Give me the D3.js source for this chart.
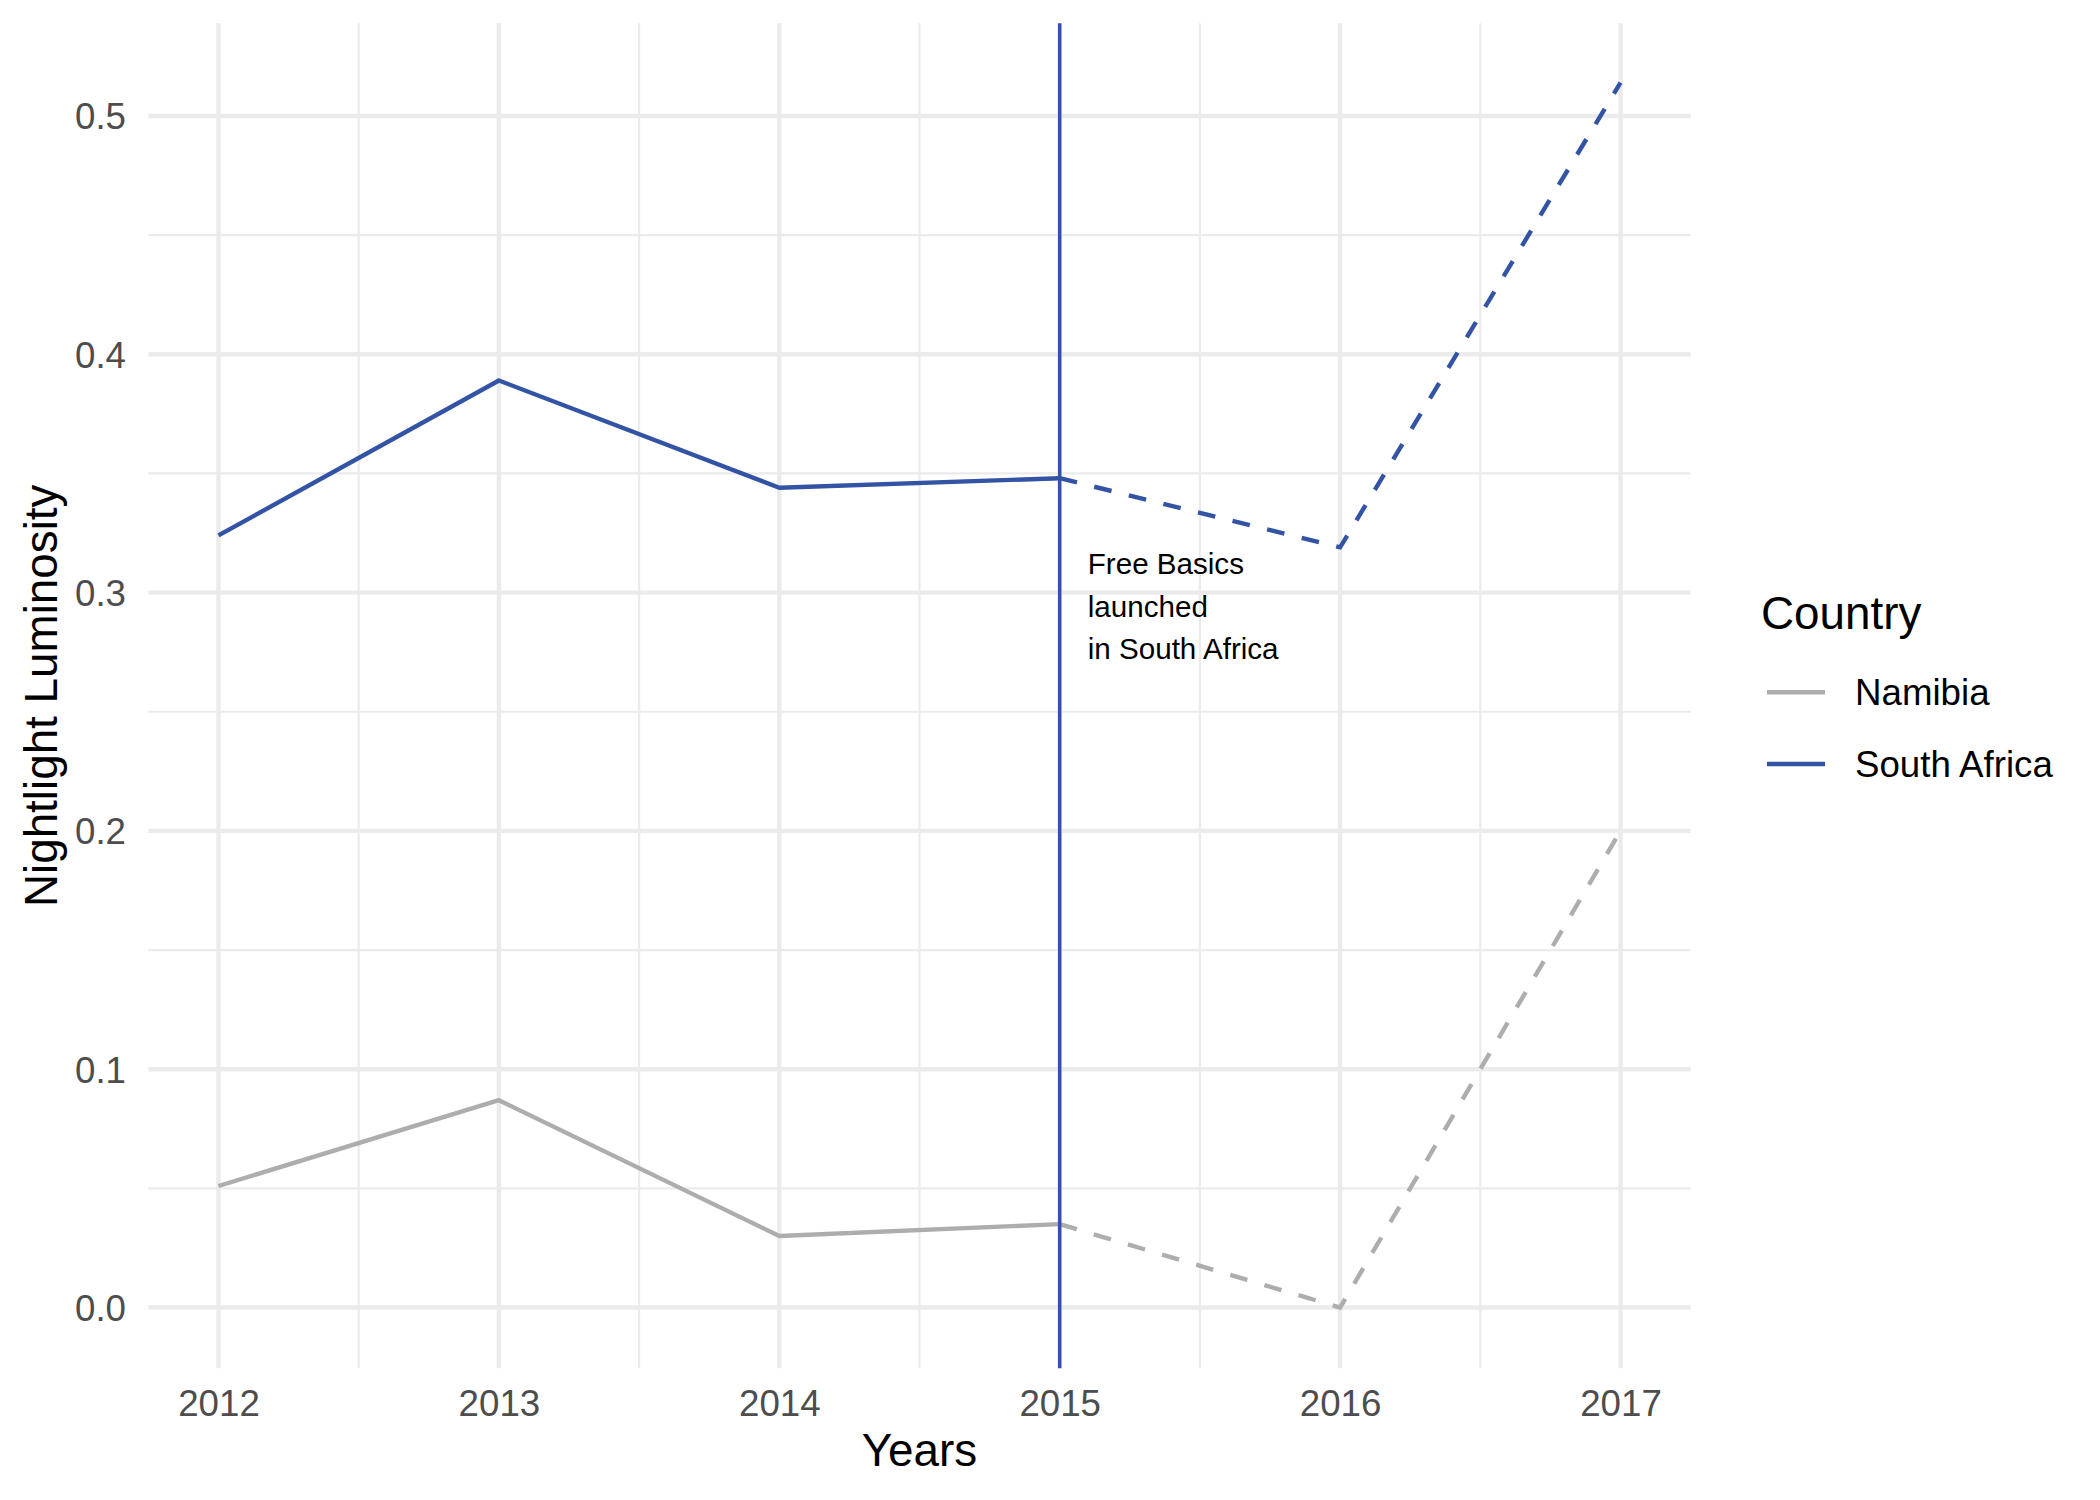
<!DOCTYPE html>
<html>
<head>
<meta charset="utf-8">
<script src="https://cdn.jsdelivr.net/npm/d3@7"></script>
<style>
  body { margin: 0; background: #fff; }
  text { font-family: "Liberation Sans", Arial, sans-serif; }
</style>
</head>
<body>
<svg id="chart" width="2100" height="1500"></svg>
<script>
// data
const years = [2012, 2013, 2014, 2015, 2016, 2017];
const namibia = [0.051, 0.087, 0.030, 0.035, 0.000, 0.200];
const southAfrica = [0.324, 0.389, 0.344, 0.348, 0.319, 0.514];
const countries = ["Namibia", "South Africa"];
const yTicks = [0, 0.1, 0.2, 0.3, 0.4, 0.5];
const launchYear = 2015;
const noteLines = ["Free Basics", "launched", "in South Africa"];

const colors = { "Namibia": "#adadad", "South Africa": "#3353a5" };

var svg = d3.select("#chart"),
    panel = { left: 148.4, right: 1690.6, top: 23.3, bottom: 1368.3 };

var x = d3.scaleLinear().domain([2011.75, 2017.25]).range([panel.left, panel.right]);
var y = d3.scaleLinear().domain([-0.0255, 0.5389]).range([panel.bottom, panel.top]);

var grid = svg.append("g");

// minor grid
let minorY = d3.range(0.05, 0.5, 0.1);
let minorX = d3.range(2012.5, 2017, 1);
grid.selectAll(".minor-y").data(minorY).enter().append("line")
    .attr("x1", panel.left).attr("x2", panel.right)
    .attr("y1", d => y(d)).attr("y2", d => y(d))
    .attr("stroke", "#ebebeb").attr("stroke-width", 2.2);
grid.selectAll(".minor-x").data(minorX).enter().append("line")
    .attr("y1", panel.top).attr("y2", panel.bottom)
    .attr("x1", d => x(d)).attr("x2", d => x(d))
    .attr("stroke", "#ebebeb").attr("stroke-width", 2.2);

// major grid
grid.selectAll(".major-y").data(yTicks).enter().append("line")
    .attr("x1", panel.left).attr("x2", panel.right)
    .attr("y1", d => y(d)).attr("y2", d => y(d))
    .attr("stroke", "#ebebeb").attr("stroke-width", 4.4);
grid.selectAll(".major-x").data(years).enter().append("line")
    .attr("y1", panel.top).attr("y2", panel.bottom)
    .attr("x1", d => x(d)).attr("x2", d => x(d))
    .attr("stroke", "#ebebeb").attr("stroke-width", 4.4);

// axes (labels only, ggplot minimal style)
var xAxis = svg.append("g").attr("transform", "translate(0,1416)")
    .call(d3.axisBottom(x).tickValues(years).tickFormat(d3.format("d")).tickSize(0).tickPadding(0));
xAxis.select(".domain").remove();
xAxis.selectAll("text").attr("font-size", 36.7).attr("fill", "#4d4d4d")
    .attr("dy", null).attr("dominant-baseline", "auto").attr("y", 0);

var yAxis = svg.append("g").attr("transform", "translate(126,0)")
    .call(d3.axisLeft(y).tickValues(yTicks).tickFormat(d3.format(".1f")).tickSize(0).tickPadding(0));
yAxis.select(".domain").remove();
yAxis.selectAll("text").attr("font-size", 36.7).attr("fill", "#4d4d4d")
    .attr("dy", "0.35em");

// axis titles
svg.append("text")
    .attr("x", (panel.left + panel.right) / 2).attr("y", 1466)
    .attr("text-anchor", "middle").attr("font-size", 45.8).attr("fill", "#000")
    .text("Years");
svg.append("text")
    .attr("transform", "translate(57," + (panel.top + panel.bottom) / 2 + ") rotate(-90)")
    .attr("text-anchor", "middle").attr("font-size", 45.8).attr("fill", "#000")
    .text("Nightlight Luminosity");

// lines: solid before launch, dashed after
var line = d3.line().x(d => x(d[0])).y(d => y(d[1]));
let series = [
    { name: "Namibia", values: namibia },
    { name: "South Africa", values: southAfrica }
];
series.forEach(function(s) {
    let pts = years.map((yr, i) => [yr, s.values[i]]);
    svg.append("path")
        .datum(pts.filter(p => p[0] <= launchYear))
        .attr("d", line).attr("fill", "none")
        .attr("stroke", colors[s.name]).attr("stroke-width", 4.4)
        .attr("stroke-linejoin", "round");
    svg.append("path")
        .datum(pts.filter(p => p[0] >= launchYear))
        .attr("d", line).attr("fill", "none")
        .attr("stroke", colors[s.name]).attr("stroke-width", 4.4)
        .attr("stroke-dasharray", "17.8,17.8");
});

// launch line
svg.append("line")
    .attr("x1", x(launchYear)).attr("x2", x(launchYear))
    .attr("y1", panel.top).attr("y2", panel.bottom)
    .attr("stroke", colors["South Africa"]).attr("stroke-width", 3.5);

// annotation
svg.append("g").selectAll("text").data(noteLines).enter().append("text")
    .attr("x", x(launchYear + 0.1))
    .attr("y", (d, i) => 574 + i * 42.5)
    .attr("font-size", 29.6).attr("fill", "#000")
    .text(d => d);

// legend
var legend = svg.append("g");
legend.append("text")
    .attr("x", 1761).attr("y", 629)
    .attr("font-size", 45.8).attr("fill", "#000")
    .text("Country");
var items = legend.selectAll(".item").data(countries).enter().append("g")
    .attr("transform", (d, i) => "translate(0," + (692.3 + i * 71.7) + ")");
items.append("line")
    .attr("x1", 1767).attr("x2", 1825).attr("y1", 0).attr("y2", 0)
    .attr("stroke", d => colors[d]).attr("stroke-width", 4.4);
items.append("text")
    .attr("x", 1855).attr("y", 0).attr("dy", "0.35em")
    .attr("font-size", 36.7).attr("fill", "#000")
    .text(d => d);
</script>
</body>
</html>
